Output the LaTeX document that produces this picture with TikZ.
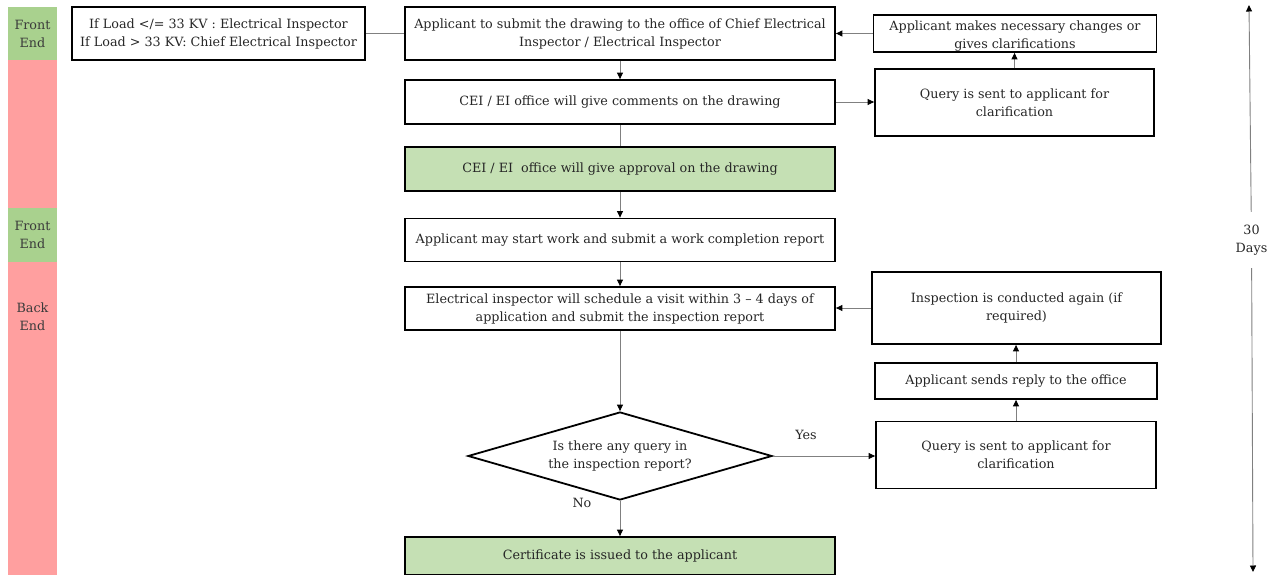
\documentclass[tikz,border=0pt]{standalone}
\usepackage{fontspec}
\setmainfont{DejaVu Serif}
\usetikzlibrary{shapes.geometric,arrows.meta}
\definecolor{fegreen}{HTML}{A9D18E}
\definecolor{bered}{HTML}{FF9F9F}
\definecolor{boxgreen}{HTML}{C5E0B4}
\definecolor{linegray}{HTML}{808080}
\definecolor{txt}{HTML}{262626}
\definecolor{sidetxt}{HTML}{3B3B3B}
\begin{document}
\begin{tikzpicture}[x=1pt,y=-1pt,
  every node/.style={font=\fontsize{12.75}{18}\selectfont, text=txt},
  box/.style={draw=black, line width=1.8pt, inner sep=0pt, align=center},
  side/.style={inner sep=0pt, minimum width=49pt, align=center, text=sidetxt},
  conn/.style={draw=linegray, line width=0.9pt},
  arr/.style={conn, -{Triangle[length=6.5pt,width=6pt,color=black]}},
  lbl/.style={inner sep=0pt}
]
\useasboundingbox (0,0) rectangle (1279,575);

% side bars
\node[side, fill=fegreen, minimum height=53pt] (s1) at (32.5,33.5) {Front\\End};
\node[side, fill=bered, minimum height=148pt] (s2) at (32.5,134) {};
\node[side, fill=fegreen, minimum height=54pt] (s3) at (32.5,235) {Front\\End};
\node[side, fill=bered, minimum height=313pt] (s4) at (32.5,418.5) {};
\node[side] (s4t) at (32.5,317) {Back\\End};

% main column
\node[box, minimum width=293pt, minimum height=53pt] (L) at (218.5,33.5)
  {If Load </= 33 KV : Electrical Inspector\\If Load > 33 KV: Chief Electrical Inspector};
\node[box, minimum width=430pt, minimum height=53pt] (A1) at (620,33.5)
  {Applicant to submit the drawing to the office of Chief Electrical\\Inspector / Electrical Inspector};
\node[box, minimum width=430pt, minimum height=44pt] (A2) at (620,102)
  {CEI / EI office will give comments on the drawing};
\node[box, fill=boxgreen, minimum width=430pt, minimum height=44pt] (A3) at (620,169)
  {CEI / EI\ \ office will give approval on the drawing};
\node[box, minimum width=430pt, minimum height=43pt] (A4) at (620,240)
  {Applicant may start work and submit a work completion report};
\node[box, minimum width=430pt, minimum height=43pt] (A5) at (620,308.5)
  {Electrical inspector will schedule a visit within 3 -- 4 days of\\application and submit the inspection report};
\node[draw=black, line width=1.8pt, diamond, aspect=3.45, inner sep=0pt,
  minimum width=304pt, minimum height=88pt, align=center] (D) at (620,456)
  {Is there any query in\\the inspection report?};
\node[box, fill=boxgreen, minimum width=430pt, minimum height=38pt] (A6) at (620,556)
  {Certificate is issued to the applicant};

% right column
\node[box, minimum width=283pt, minimum height=37pt] (R1) at (1015,33.5) {};
\node[lbl, align=center] (R1t) at (1015,36.5)
  {Applicant makes necessary changes or\\gives clarifications};
\node[box, minimum width=279pt, minimum height=67pt] (R2) at (1014.5,102.5)
  {Query is sent to applicant for\\clarification};
\node[box, minimum width=289pt, minimum height=72pt] (R3) at (1016.5,308)
  {Inspection is conducted again (if\\required)};
\node[box, minimum width=282pt, minimum height=36pt] (R4) at (1016,381)
  {Applicant sends reply to the office};
\node[box, minimum width=280pt, minimum height=67pt] (R5) at (1016,455)
  {Query is sent to applicant for\\clarification};

% labels
\node[lbl] (yes) at (806,435) {Yes};
\node[lbl] (no) at (582,503) {No};

% time arrow
\coordinate (t1) at (1249,5);
\coordinate (t2) at (1253,572);
\node[inner sep=0pt, minimum height=56pt, align=center] (days) at (1251.5,240) {30\\Days};

% connectors
\draw[conn] (L.east) -- (A1.west);
\draw[arr] (A1.south) -- (A2.north);
\draw[conn] (A2.south) -- (A3.north);
\draw[arr] (A3.south) -- (A4.north);
\draw[arr] (A4.south) -- (A5.north);
\draw[arr] (A5.south) -- (D.north);
\draw[arr] (D.south) -- (A6.north);
\draw[arr] (A2.east) -- (A2.east -| R2.west);
\draw[arr] (R2.north) -- (R2.north |- R1.south);
\draw[arr] (R1.west) -- (R1.west -| A1.east);
\draw[arr] (D.east) -- (D.east -| R5.west);
\draw[arr] (R5.north) -- (R5.north |- R4.south);
\draw[arr] (R4.north) -- (R4.north |- R3.south);
\draw[arr] (R3.west) -- (R3.west -| A5.east);
\draw[arr] (days) -- (t1);
\draw[arr] (days) -- (t2);
\end{tikzpicture}
\end{document}
